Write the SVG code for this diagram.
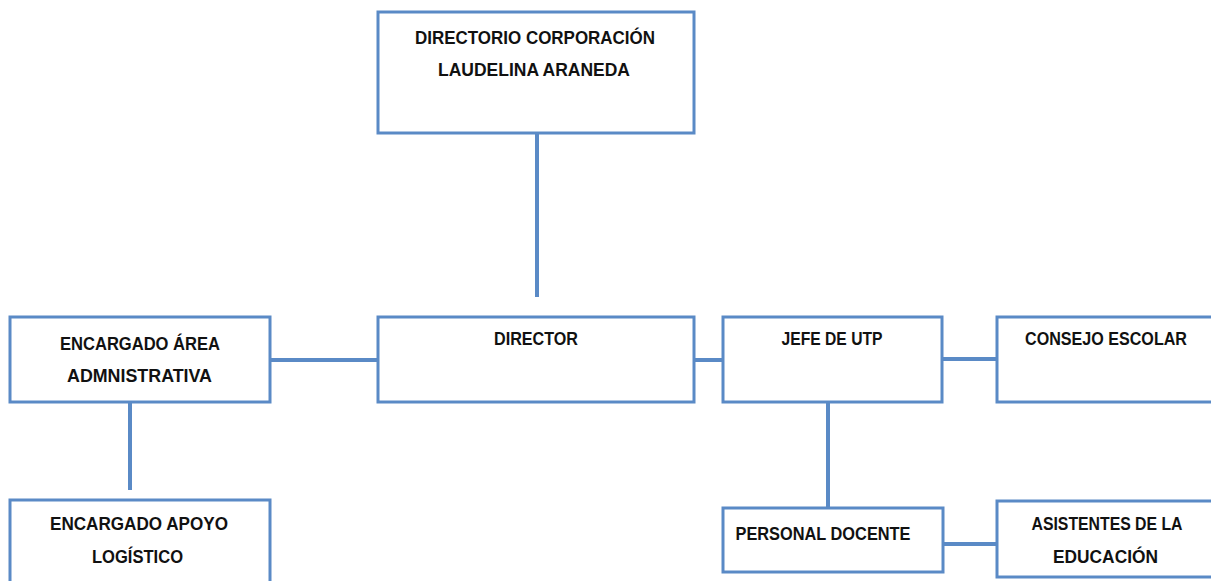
<svg xmlns="http://www.w3.org/2000/svg" width="1211" height="581" viewBox="0 0 1211 581">
<style>
.box{fill:#ffffff;stroke:#5A8AC6;stroke-width:3}
.ln{stroke:#5A8AC6;stroke-width:4;fill:none}
.t{font-family:"Liberation Sans",Arial,sans-serif;font-weight:bold;font-size:18px;fill:#111111;text-anchor:middle}
</style>
<rect width="1211" height="581" fill="#ffffff"/>
<g id="connectors">
<line class="ln" x1="537" y1="133" x2="537" y2="297"/>
<line class="ln" x1="270" y1="360" x2="378" y2="360"/>
<line class="ln" x1="694" y1="360" x2="723" y2="360"/>
<line class="ln" x1="942" y1="359" x2="997" y2="359"/>
<line class="ln" x1="130" y1="402" x2="130" y2="490"/>
<line class="ln" x1="828" y1="402" x2="828" y2="508"/>
<line class="ln" x1="943" y1="544" x2="997" y2="544"/>
</g>
<g id="directorio">
<rect class="box" x="378" y="12" width="316" height="121"/>
<text class="t" x="535" y="44" textLength="240" lengthAdjust="spacingAndGlyphs">DIRECTORIO CORPORACIÓN</text>
<text class="t" x="534" y="76" textLength="192" lengthAdjust="spacingAndGlyphs">LAUDELINA ARANEDA</text>
</g>
<g id="area-admin">
<rect class="box" x="10" y="317" width="260" height="85"/>
<text class="t" x="140" y="350" textLength="160" lengthAdjust="spacingAndGlyphs">ENCARGADO ÁREA</text>
<text class="t" x="139.5" y="382" textLength="145" lengthAdjust="spacingAndGlyphs">ADMNISTRATIVA</text>
</g>
<g id="director">
<rect class="box" x="378" y="317" width="316" height="85"/>
<text class="t" x="536" y="345" textLength="84" lengthAdjust="spacingAndGlyphs">DIRECTOR</text>
</g>
<g id="jefe-utp">
<rect class="box" x="723" y="317" width="219" height="85"/>
<text class="t" x="832" y="345" textLength="101" lengthAdjust="spacingAndGlyphs">JEFE DE UTP</text>
</g>
<g id="consejo">
<rect class="box" x="997" y="317" width="220" height="85"/>
<text class="t" x="1106" y="345" textLength="162" lengthAdjust="spacingAndGlyphs">CONSEJO ESCOLAR</text>
</g>
<g id="apoyo">
<rect class="box" x="10" y="500" width="260" height="90"/>
<text class="t" x="139" y="530" textLength="178" lengthAdjust="spacingAndGlyphs">ENCARGADO APOYO</text>
<text class="t" x="137.5" y="563" textLength="91" lengthAdjust="spacingAndGlyphs">LOGÍSTICO</text>
</g>
<g id="docente">
<rect class="box" x="723" y="508" width="220" height="64"/>
<text class="t" x="823" y="540" textLength="175" lengthAdjust="spacingAndGlyphs">PERSONAL DOCENTE</text>
</g>
<g id="asistentes">
<rect class="box" x="997" y="501" width="220" height="76"/>
<text class="t" x="1107" y="530" textLength="151" lengthAdjust="spacingAndGlyphs">ASISTENTES DE LA</text>
<text class="t" x="1105.5" y="563" textLength="105" lengthAdjust="spacingAndGlyphs">EDUCACIÓN</text>
</g>
</svg>
